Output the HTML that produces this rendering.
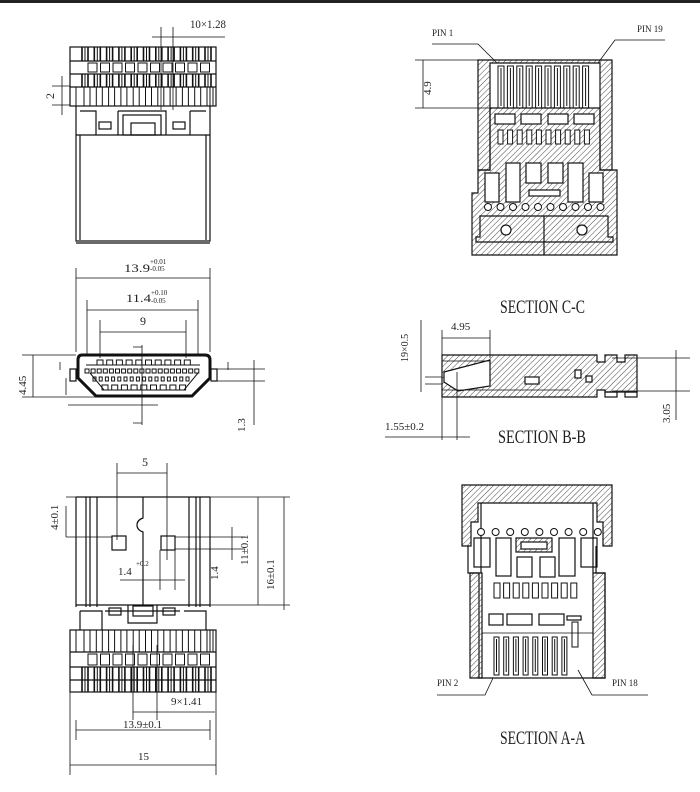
<!DOCTYPE html>
<html><head><meta charset="utf-8"><style>
html,body{margin:0;padding:0;background:#fff;}
svg{display:block;}
text{font-family:"Liberation Serif",serif;fill:#222;}
</style></head><body>
<svg id="s" width="700" height="792" viewBox="0 0 700 792" xmlns="http://www.w3.org/2000/svg">
<defs>
<pattern id="h" width="4" height="4" patternUnits="userSpaceOnUse" patternTransform="rotate(45)">
<line x1="0" y1="0" x2="0" y2="4" stroke="#333" stroke-width="0.9"/>
</pattern>
</defs>
<rect x="0" y="0" width="700" height="3" fill="#222"/>
<g id="g" fill="none" stroke="#111" stroke-width="1.2">

<!-- VIEW 1 -->
<rect x="70" y="47" width="146" height="59"/>
<line x1="70" y1="61" x2="216" y2="61"/><line x1="70" y1="74" x2="216" y2="74"/><line x1="70" y1="87" x2="216" y2="87"/>
<path d="M76 106 V241 H210 V106"/>
<path d="M80 135 V240 M206 135 V240 M76 135 H210 M76 243 H210"/>
<path d="M80 111 H96 V135 M118 111 V135 M118 111 H166 V135 M190 111 V135 M190 111 H206"/>
<rect x="99" y="122" width="12" height="7"/><rect x="173" y="122" width="12" height="7"/>
<rect x="123" y="115" width="38" height="20"/><rect x="131" y="123" width="24" height="12"/>
<path d="M152 37 H225 M161 27 V110 M173 27 V110" stroke-width="0.8"/>
<path d="M52 86 H70 M52 105 H70 M62 76 V115" stroke-width="0.8"/>

<!-- VIEW 2 -->
<path d="M76 268 V352 M210 268 V352 M87 300 V355 M198 300 V355 M100 320 V358 M186 320 V358" stroke-width="0.8"/>
<path d="M76 278 H210 M87 310 H198 M100 332 H186" stroke-width="0.8"/>
<path d="M82 355 H205 Q210 355 210 360 V378 L192 396 H96 L78 378 V360 Q78 355 82 355 Z" stroke-width="3"/>
<path d="M86 365 H200 M90 373 L104 390 H184 L198 373" stroke-width="1"/>
<rect x="70" y="369" width="6" height="12"/><rect x="211" y="369" width="6" height="12"/>
<path d="M22 355 H76 M22 397 H96 M33 355 V397 M68 405 H158 M142 345 V425 M133 347 H142 M142 423 H133 M66 378 V395 M254 360 V425 M216 369 H265 M216 381 H265 M60 362 V370 M228 362 V370" stroke-width="0.8"/>

<!-- VIEW 3 -->
<path d="M76 497 H210 M76 497 V607 M210 497 V607 M86 497 V607 M90 497 V607 M97 497 V607 M200 497 V607 M196 497 V607 M189 497 V607" />
<path d="M143 497 V518 Q137 520 137 525 Q137 530 143 532 V605"/>
<rect x="112" y="536" width="14" height="14"/><rect x="161" y="536" width="14" height="14"/>
<path d="M76 605 H210 M80 611 V630 M105 611 H180 M80 611 H102 V630 M184 611 H206 V630 M128 605 V623 H157 V605"/>
<rect x="109" y="608" width="12" height="7"/><rect x="163" y="608" width="12" height="7"/><rect x="133" y="606" width="20" height="10"/>
<rect x="70" y="630" width="146" height="62"/>
<line x1="70" y1="652" x2="216" y2="652"/><line x1="70" y1="667" x2="216" y2="667"/><line x1="70" y1="680" x2="216" y2="680"/>
<path d="M117 463 V540 M167 463 V560 M117 473 H167 M66 497 H290 M66 537 H112 M175 537 H245 M175 549 H245 M66 506 V537 M232 527 V560 M258 497 V605 M210 605 H290 M284 497 V610 M120 580 H185 M160 550 V590 M175 550 V590 M133 645 V720 M157 645 V720 M133 712 H215 M76 720 V740 M210 720 V740 M76 730 H210 M70 692 V775 M216 692 V775 M70 765 H216" stroke-width="0.8"/>

<!-- SECTION C-C -->
<path d="M478 60 H612 V170 H600 V63 H490 V170 H478 Z" fill="url(#h)"/>
<path d="M490 108 H600 V170 H617 V255 H472 V193 H478 V170 H490 Z" fill="url(#h)"/>
<rect x="495" y="114" width="20" height="10" fill="#fff"/><rect x="521" y="114" width="20" height="10" fill="#fff"/><rect x="548" y="114" width="20" height="10" fill="#fff"/><rect x="574" y="114" width="20" height="10" fill="#fff"/>
<rect x="485" y="173" width="14" height="29" fill="#fff"/><rect x="506" y="163" width="14" height="39" fill="#fff"/><rect x="526" y="163" width="15" height="20" fill="#fff"/><rect x="548" y="163" width="15" height="20" fill="#fff"/><rect x="568" y="163" width="15" height="39" fill="#fff"/><rect x="589" y="173" width="14" height="29" fill="#fff"/>
<rect x="529" y="190" width="31" height="6" fill="#fff"/>
<path d="M480 216 H608 V237 H613 V242 H476 V237 H480 Z M544 216 V255" />
<circle cx="506" cy="230" r="5" fill="#fff"/><circle cx="582" cy="230" r="5" fill="#fff"/>
<path d="M432 44 H478 L497 63 M598 63 L615 40 H665 M415 60 H490 M415 108 H490 M423 60 V108" stroke-width="0.8"/>

<!-- SECTION B-B -->
<path d="M442 355 H597 V362 H605 V355 H617 V362 H625 V355 H637 V392 H605 V390 H597 V397 H442 Z" fill="url(#h)"/>
<rect x="605" y="392" width="12" height="5"/><rect x="625" y="392" width="12" height="5"/>
<path d="M444 372 L490 360 V386 L458 391 L444 382 Z" fill="#fff"/>
<rect x="525" y="377" width="14" height="7" fill="#fff"/><rect x="575" y="370" width="6" height="8" fill="#fff"/><rect x="586" y="376" width="6" height="6" fill="#fff"/>
<path d="M442 361 H490 M442 390 H570" stroke-width="0.8"/>
<path d="M442 330 V440 M490 330 V358 M442 338 H490 M425 377 H442 M425 384 H442 M421 320 V392 M457 372 V440 M385 437 H470 M612 358 H690 M612 391 H690 M676 350 V420" stroke-width="0.8"/>

<!-- SECTION A-A -->
<path d="M462 485 H612 V546 H603 V522 H597 V503 H478 V522 H471 V546 H462 Z" fill="url(#h)"/>
<path d="M468 546 V573 H479 V678 H605 V573 H596 V546 M481 503 V573 M593 503 V573" />
<path d="M470 573 H482 V678 H470 Z M593 573 H605 V678 H593 Z" fill="url(#h)"/>
<rect x="516" y="538" width="36" height="14" fill="url(#h)"/><rect x="521" y="542" width="26" height="7" fill="#fff"/>
<rect x="474" y="538" width="16" height="29"/><rect x="496" y="538" width="15" height="38"/><rect x="517" y="557" width="15" height="20"/><rect x="540" y="557" width="15" height="20"/><rect x="559" y="538" width="16" height="38"/><rect x="581" y="538" width="16" height="29"/>
<rect x="489" y="614" width="14" height="11"/><rect x="507" y="614" width="25" height="11"/><rect x="539" y="614" width="25" height="11"/><rect x="567" y="616" width="14" height="4"/>
<path d="M482 633 H593 M437 695 H485 L493 678 M578 670 L592 695 H648" stroke-width="0.8"/>
</g>
<g id="r" fill="none" stroke="#111" stroke-width="1"></g>

<g font-size="12">
<text x="190" y="28" textLength="36" lengthAdjust="spacingAndGlyphs">10×1.28</text>
<text x="54" y="99" transform="rotate(-90 54 99)">2</text>
<text x="124" y="272" textLength="26" lengthAdjust="spacingAndGlyphs">13.9</text><text x="150" y="264" font-size="7">+0.01</text><text x="150" y="271" font-size="7">-0.05</text>
<text x="126" y="302" textLength="25" lengthAdjust="spacingAndGlyphs">11.4</text><text x="151" y="295" font-size="7">+0.10</text><text x="151" y="303" font-size="7">-0.05</text>
<text x="140" y="325">9</text>
<text x="26" y="395" transform="rotate(-90 26 395)" font-size="11">4.45</text>
<text x="245" y="432" transform="rotate(-90 245 432)" font-size="11">1.3</text>
<text x="142" y="466">5</text>
<text x="58" y="530" transform="rotate(-90 58 530)" font-size="11">4±0.1</text>
<text x="118" y="575" font-size="11">1.4</text><text x="136" y="566" font-size="7">+0.2</text>
<text x="218" y="580" transform="rotate(-90 218 580)" font-size="11">1.4</text>
<text x="248" y="565" transform="rotate(-90 248 565)" font-size="11">11±0.1</text>
<text x="274" y="590" transform="rotate(-90 274 590)" font-size="11">16±0.1</text>
<text x="171" y="705" font-size="11">9×1.41</text>
<text x="123" y="728" font-size="11">13.9±0.1</text>
<text x="138" y="760" font-size="11">15</text>
<text x="432" y="36" font-size="9">PIN 1</text>
<text x="637" y="32" font-size="9">PIN 19</text>
<text x="431" y="95" transform="rotate(-90 431 95)" font-size="11">4.9</text>
<text x="500" y="313" font-size="19" textLength="85" lengthAdjust="spacingAndGlyphs">SECTION C-C</text>
<text x="451" y="330" font-size="11">4.95</text>
<text x="408" y="362" transform="rotate(-90 408 362)" font-size="10">19×0.5</text>
<text x="385" y="430" font-size="11">1.55±0.2</text>
<text x="670" y="423" transform="rotate(-90 670 423)" font-size="11">3.05</text>
<text x="498" y="443" font-size="19" textLength="88" lengthAdjust="spacingAndGlyphs">SECTION B-B</text>
<text x="437" y="686" font-size="9">PIN 2</text>
<text x="612" y="686" font-size="9">PIN 18</text>
<text x="500" y="744" font-size="19" textLength="85" lengthAdjust="spacingAndGlyphs">SECTION A-A</text>
</g>
</svg>
<script>
var r=document.getElementById('r'),o='';
function L(a,b,c,d,w){o+='<line x1="'+a+'" y1="'+b+'" x2="'+c+'" y2="'+d+'" stroke-width="'+(w||1)+'"/>';}
function R(x,y,w,h,f){o+='<rect x="'+x+'" y="'+y+'" width="'+w+'" height="'+h+'"'+(f?' fill="'+f+'"':'')+'/>';}
function C(x,y,rr){o+='<circle cx="'+x+'" cy="'+y+'" r="'+rr+'" fill="#fff"/>';}
function block(y0){
 for(var i=0;i<11;i++){var x=82+i*12.3;
  [y0[0],y0[2]].forEach(function(r){L(x,r[0],x,r[1],1.6);L(x+3,r[0],x+3,r[1],1);L(x+6,r[0],x+6,r[1],1.6);});
  L(x+2,y0[3][0],x+2,y0[3][1]);L(x+8,y0[3][0],x+8,y0[3][1]);
 }
 for(var i=0;i<10;i++){R(88+i*12.5,y0[1][0]+2,9,y0[1][1]-y0[1][0]-4);}
 L(76,y0[3][0],76,y0[3][1]);L(210,y0[3][0],210,y0[3][1]);
}
block([[47,61],[61,74],[74,87],[87,106]]);
block([[667,680],[652,667],[680,692],[630,652]]);
for(var i=0;i<10;i++){R(97+i*9.7,360,6,5);}
for(var i=0;i<9;i++){R(102+i*9.7,385,6,5);}
for(var i=0;i<19;i++){R(85+i*6.1,369,4,4);}
for(var i=0;i<16;i++){R(93+i*6.2,377,3,4);}
for(var i=0;i<10;i++){R(498+i*9.4,66,6,42);L(501+i*9.4,68,501+i*9.4,106);}
for(var i=0;i<10;i++){R(498+i*9.6,130,5,14,'#fff');}
for(var i=0;i<10;i++){C(488+i*12.5,207,3.5);}
for(var i=0;i<9;i++){C(481+i*14.6,532,3.5);}
for(var i=0;i<9;i++){R(494+i*9.6,583,6,15);}
for(var i=0;i<8;i++){R(494+i*9.7,637,5,38);L(496.5+i*9.7,639,496.5+i*9.7,672);}
R(572,622,6,25);
r.innerHTML=o;
</script>
</body></html>
